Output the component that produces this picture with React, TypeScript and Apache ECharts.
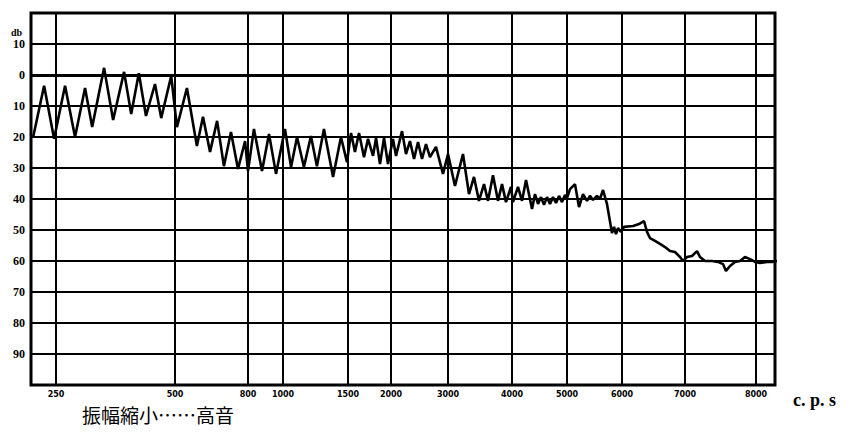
import React, { useEffect, useRef } from "react";
import * as echarts from "echarts";

// Frequency tick labels (c.p.s) and their position on the chart paper's own (non-uniform) frequency scale
const freqTicks = [250, 500, 800, 1000, 1500, 2000, 3000, 4000, 5000, 6000, 7000, 8000];
const paperScaleAtTick = [25, 144, 217, 252, 317, 360, 417, 481, 536, 591, 654, 725];
const paperScaleMax = 744;

// dB ticks (shown as absolute values, +10 above 0)
const dbTicks = [-10, 0, 10, 20, 30, 40, 50, 60, 70, 80, 90];

// Response trace: frequency (Hz) and attenuation (dB)
const traceHz = [
  202, 225, 246, 269, 290, 311, 326, 351, 370, 393,
  408, 424, 439, 458, 471, 492, 508, 549, 590, 615,
  644, 673, 701, 730, 759, 788, 800, 834, 880, 920, 960,
  1015, 1062, 1108, 1161, 1215, 1261, 1315, 1385, 1446, 1492,
  1535, 1581, 1628, 1686, 1733, 1791, 1826, 1872, 1919, 1965,
  2035, 2088, 2193, 2263, 2333, 2404, 2474, 2544, 2614, 2684,
  2789, 2912, 3000, 3109, 3234, 3328, 3406, 3484, 3563, 3625,
  3703, 3781, 3844, 3906, 3984, 4018, 4109, 4182, 4255, 4364,
  4418, 4473, 4527, 4582, 4636, 4691, 4745, 4800, 4855, 4909,
  4964, 5000, 5055, 5145, 5218, 5291, 5364, 5418, 5473, 5545,
  5600, 5655, 5727, 5818, 5855, 5891, 5927, 5982, 6032, 6175,
  6270, 6349, 6397, 6444, 6524, 6603, 6683, 6762, 6841, 6921,
  6968, 7028, 7099, 7169, 7211, 7282, 7380, 7465, 7535, 7577,
  7634, 7704, 7775, 7845, 7915, 7986, 8056, 8155, 8225, 8296,
  8366, 8408,
];
const traceDb = [
  20, 3.5, 20.6, 3.5, 20, 4.2, 16.8, -2.3, 14.5, -1,
  12.6, -0.6, 13.2, 2.9, 13.9, 0.3, 16.8, 4.2, 22.9, 13.5,
  24.8, 14.8, 29.4, 18.4, 30.3, 21.3, 31, 17.4, 31, 19, 31.9,
  17.4, 29.7, 20, 29.7, 19.7, 29.4, 17.4, 32.9, 20, 28.1,
  18.7, 24.8, 18.7, 26.5, 20.6, 26.1, 20.3, 28.7, 20.3, 28.7,
  20.6, 26.1, 18.1, 25.5, 21.3, 27.1, 21.6, 27.1, 22.3, 26.5,
  23.2, 31.9, 25.5, 35.8, 25.5, 38.4, 32.9, 40.6, 35.2, 40.6,
  32.3, 40.6, 35.2, 41, 36.1, 41, 36.1, 40.6, 33.9, 43.2,
  38.4, 41.6, 39.4, 41.9, 39.4, 41.6, 39.4, 41.3, 39, 41,
  38.7, 39.7, 36.8, 35.2, 42.6, 38.4, 40.6, 39, 40.3, 39,
  40, 37.1, 41.6, 51, 49, 51.3, 49.4, 50.6, 49, 48.7,
  48.1, 47.1, 50.6, 52.6, 53.5, 54.5, 55.5, 56.8, 57.1, 58.7,
  60, 58.7, 58.4, 56.8, 58.7, 60, 60, 60.3, 61, 63.2,
  61.6, 60.3, 60, 58.7, 59.4, 60.3, 60.6, 60.3, 60.3, 60,
  61, 61.9,
];

// piecewise-linear map from Hz onto the paper's frequency scale
function freqToPaper(f: number): number {
  const n = freqTicks.length;
  let i = 0;
  if (f <= freqTicks[0]) i = 0;
  else if (f >= freqTicks[n - 1]) i = n - 2;
  else {
    while (i < n - 2 && f > freqTicks[i + 1]) i++;
  }
  const f0 = freqTicks[i], f1 = freqTicks[i + 1];
  const p0 = paperScaleAtTick[i], p1 = paperScaleAtTick[i + 1];
  return p0 + ((f - f0) / (f1 - f0)) * (p1 - p0);
}

export default function App() {
  const ref = useRef<HTMLDivElement>(null);
  useEffect(() => {
    if (!ref.current) return;
    const chart = echarts.init(ref.current, null, { renderer: "svg" });
    const data = traceHz.map((f, i) => [freqToPaper(f), traceDb[i]]);
    const gridLines: any[] = [];
    paperScaleAtTick.forEach((p) => gridLines.push({ xAxis: p }));
    gridLines.push({ yAxis: 0, lineStyle: { width: 3, color: "#000", type: "solid" } });
    chart.setOption({
      animation: false,
      backgroundColor: "#fff",
      grid: {
        left: 31,
        right: 77,
        top: 13,
        bottom: 49,
        show: true,
        borderColor: "#000",
        borderWidth: 3,
        backgroundColor: "transparent",
      },
      xAxis: {
        type: "value",
        min: 0,
        max: paperScaleMax,
        axisLine: { show: false },
        axisTick: { show: false },
        splitLine: { show: false },
        axisLabel: {
          customValues: paperScaleAtTick,
          formatter: (v: number) => {
            const idx = paperScaleAtTick.indexOf(v);
            return idx >= 0 ? String(freqTicks[idx]) : "";
          },
          fontSize: 8,
          fontWeight: "bold",
          fontFamily: "DejaVu Sans",
          color: "#000",
          margin: 5,
        },
      },
      yAxis: {
        type: "value",
        inverse: true,
        min: -20,
        max: 100,
        interval: 10,
        axisLine: { show: false },
        axisTick: { show: false },
        splitLine: { show: true, lineStyle: { color: "#000", width: 2 } },
        axisLabel: {
          formatter: (v: number) =>
            dbTicks.indexOf(v) >= 0 ? String(Math.abs(v)) : "",
          fontSize: 12,
          fontWeight: "bold",
          fontFamily: "Liberation Serif",
          color: "#000",
          margin: 6,
        },
      },
      series: [
        {
          type: "line",
          data,
          clip: false,
          symbol: "none",
          lineStyle: { color: "#000", width: 2.6 },
          markLine: {
            silent: true,
            symbol: ["none", "none"],
            label: { show: false },
            lineStyle: { color: "#000", width: 2, type: "solid" },
            data: gridLines,
          },
          z: 3,
        },
      ],
      graphic: [
        {
          type: "text",
          left: 11,
          top: 27,
          style: {
            text: "db",
            fontSize: 10,
            fontWeight: "bold",
            fontFamily: "Liberation Serif",
            fill: "#000",
          },
        },
        {
          type: "text",
          x: 793,
          y: 400,
          style: {
            text: "c. p. s",
            fontSize: 18,
            fontWeight: "bold",
            fontFamily: "Liberation Serif",
            fill: "#000",
            verticalAlign: "middle",
          },
        },
        {
          type: "text",
          x: 82,
          y: 414,
          style: {
            text: "振幅縮小……高音",
            fontSize: 19,
            fontFamily: "Noto Sans CJK JP",
            fill: "#000",
            verticalAlign: "middle",
          },
        },
      ],
    });
    return () => chart.dispose();
  }, []);
  return (
    <div
      ref={ref}
      style={{ position: "fixed", left: 0, top: 0, width: 852, height: 434, background: "#fff" }}
    />
  );
}
